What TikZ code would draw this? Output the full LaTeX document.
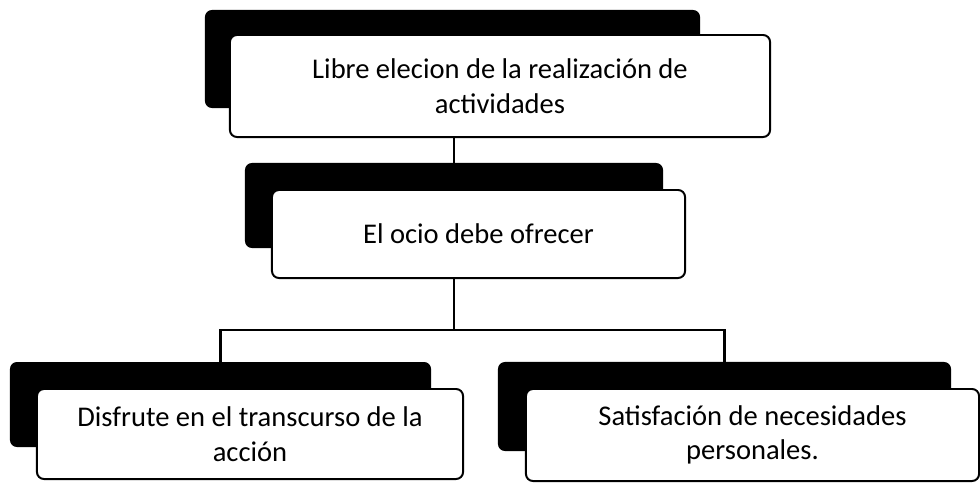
\documentclass[tikz,border=0pt]{standalone}
\usepackage{fontspec}
\setmainfont{Carlito}
\usetikzlibrary{positioning,calc}

\begin{document}
\begin{tikzpicture}[
    x=0.025cm, y=-0.025cm,
    box/.style={draw=black, fill=white, line width=1.4pt, rounded corners=5pt, inner sep=0pt, align=center, font=\fontsize{20.3}{24.5}\selectfont},
    backbox/.style={fill=black, rounded corners=5pt, inner sep=0pt},
    link/.style={line width=2pt, draw=black}
  ]
    \useasboundingbox (0,0) rectangle (980,483);
    % black backs
    \node[backbox, minimum width=12.375cm, minimum height=2.45cm] (libreback) at (452.5,59) {};
    \node[backbox, minimum width=10.45cm, minimum height=2.125cm] (ocioback) at (454,205.5) {};
    \node[backbox, minimum width=10.525cm, minimum height=2.125cm] (disfruteback) at (220.5,404.5) {};
    \node[backbox, minimum width=11.325cm, minimum height=2.225cm] (satisback) at (724.5,406.5) {};
    % white boxes
    \node[box, minimum width=13.5cm, minimum height=2.55cm] (libre) at (500,86) {Libre elecion de la realización de\\actividades};
    \node[box, minimum width=10.325cm, minimum height=2.2cm] (ocio) at (478.5,234) {El ocio debe ofrecer};
    \node[box, minimum width=10.65cm, minimum height=2.25cm] (disfrute) at (250,434) {Disfrute en el transcurso de la\\acción};
    \node[box, minimum width=11.325cm, minimum height=2.3cm] (satis) at (752.5,435) {Satisfación de necesidades\\personales.};
    % connectors
    \coordinate (split) at (ocioback.north |- 0,330);
    \draw[link] (ocioback.north |- libre.south) -- (ocioback.north);
    \draw[link] (ocioback.north |- ocio.south) -- (split);
    \draw[link] (split) -| (disfruteback.north);
    \draw[link] (split) -| (satisback.north);
\end{tikzpicture}
\end{document}
